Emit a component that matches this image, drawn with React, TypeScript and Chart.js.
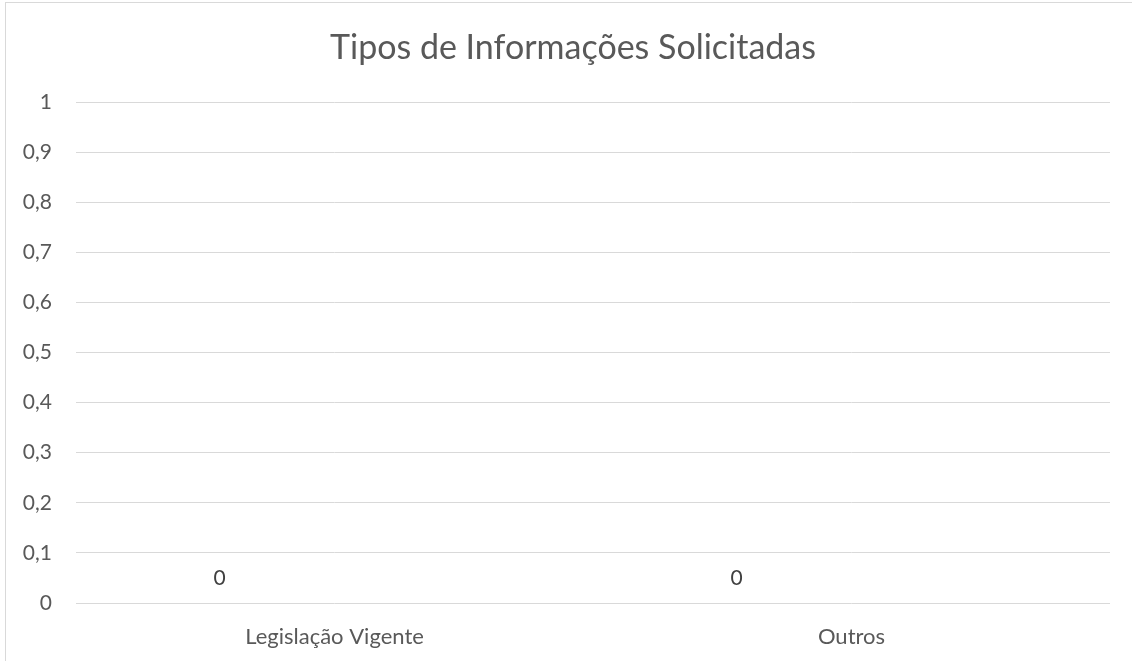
import React, { useEffect, useRef } from "react";
import { Chart, registerables } from "chart.js";

Chart.register(...registerables);

const chartTitle = "Tipos de Informações Solicitadas";
const categories = ["Legislação Vigente", "Outros"];
const seriesLabeled = [0, 0];
const seriesSecond = [0, 0];
const seriesThird = [0, 0];
const yMin = 0;
const yMax = 1;
const yStep = 0.1;

const FONT = "Lato, 'Open Sans', sans-serif";
const TEXT = "#595959";
const GRID = "#d9d9d9";

const frame = {
  id: "frame",
  beforeDraw(chart: any) {
    const ctx = chart.ctx;
    ctx.save();
    ctx.fillStyle = "#ffffff";
    ctx.fillRect(0, 0, chart.width, chart.height);
    ctx.strokeStyle = GRID;
    ctx.lineWidth = 1;
    ctx.strokeRect(5.5, 2.5, chart.width + 20, chart.height + 20);
    ctx.restore();
  },
};

const titleShift = {
  id: "titleShift",
  afterLayout(chart: any) {
    const t = chart.titleBlock;
    if (t) {
      t.left = 36;
      t.width = t.right - t.left;
    }
  },
};

const valueLabels = {
  id: "valueLabels",
  afterDatasetsDraw(chart: any) {
    const ctx = chart.ctx;
    const meta = chart.getDatasetMeta(0);
    const data = chart.data.datasets[0].data;
    ctx.save();
    ctx.font = `21px ${FONT}`;
    ctx.fillStyle = "#404040";
    ctx.textAlign = "center";
    ctx.textBaseline = "middle";
    meta.data.forEach((el: any, i: number) => {
      ctx.fillText(String(data[i]).replace(".", ","), el.x, el.y - 25);
    });
    ctx.restore();
  },
};

export default function App() {
  const ref = useRef<HTMLCanvasElement | null>(null);
  useEffect(() => {
    if (!ref.current) return;
    const chart = new Chart(ref.current, {
      type: "bar",
      data: {
        labels: categories,
        datasets: [
          { label: "Série 1", data: seriesLabeled, backgroundColor: "#4472c4" },
          { label: "Série 2", data: seriesSecond, backgroundColor: "#ed7d31" },
          { label: "Série 3", data: seriesThird, backgroundColor: "#a5a5a5" },
        ],
      },
      options: {
        responsive: false,
        animation: false,
        categoryPercentage: 0.667,
        barPercentage: 0.9,
        layout: { padding: { left: 0, right: 22, top: 0, bottom: 0 } },
        plugins: {
          legend: { display: false },
          tooltip: { enabled: false },
          title: {
            display: true,
            text: chartTitle,
            color: TEXT,
            font: { family: FONT, size: 34, weight: "normal" },
            padding: { top: 28, bottom: 33.2 },
          },
        },
        scales: {
          x: {
            grid: { display: false, drawTicks: false },
            border: { display: false },
            ticks: {
              color: TEXT,
              font: { family: FONT, size: 22 },
              padding: 21,
            },
            afterFit(scale: any) {
              scale.height = 58;
            },
          },
          y: {
            min: yMin,
            max: yMax,
            grid: { color: GRID, lineWidth: 1, drawTicks: false },
            border: { display: false },
            ticks: {
              stepSize: yStep,
              color: TEXT,
              font: { family: FONT, size: 21 },
              padding: 24,
              callback: (v: any) => Number(Number(v).toFixed(1)).toString().replace(".", ","),
            },
            afterFit(scale: any) {
              scale.width = 76;
            },
          },
        },
      },
      plugins: [frame, titleShift, valueLabels],
    });
    return () => chart.destroy();
  }, []);
  return (
    <div style={{ position: "fixed", left: 0, top: 0, width: 1132, height: 661, background: "#fff" }}>
      <canvas ref={ref} width={1132} height={661} style={{ display: "block" }} />
    </div>
  );
}
